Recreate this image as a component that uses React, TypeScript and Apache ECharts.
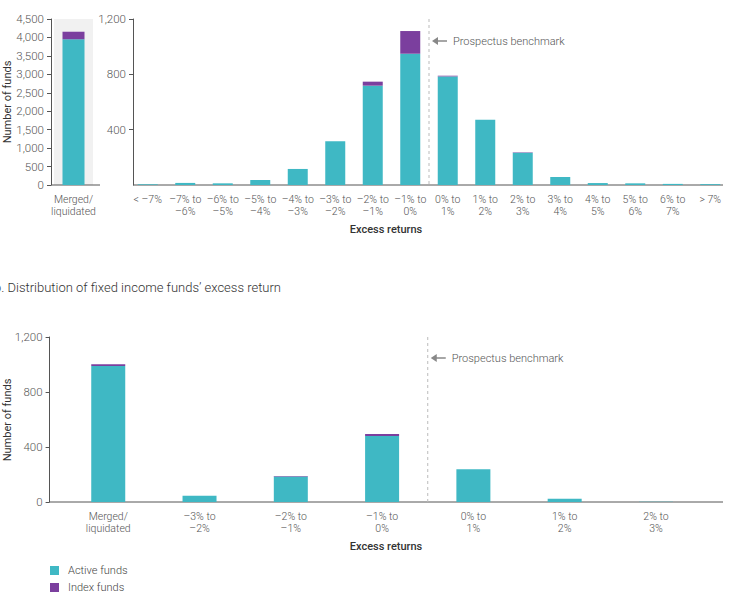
import React, { useEffect, useRef } from 'react';
import * as echarts from 'echarts';

// ---------- data ----------
const mergedCategory = ['Merged/\nliquidated'];
const mergedActive = [3950];
const mergedIndex = [205];

const equityCategories = [
  '< –7%', '–7% to\n–6%', '–6% to\n–5%', '–5% to\n–4%', '–4% to\n–3%', '–3% to\n–2%',
  '–2% to\n–1%', '–1% to\n0%', '0% to\n1%', '1% to\n2%', '2% to\n3%', '3% to\n4%',
  '4% to\n5%', '5% to\n6%', '6% to\n7%', '> 7%',
];
const equityActive = [5, 15, 12, 36, 116, 316, 718, 949, 785, 472, 233, 58, 14, 12, 8, 6];
const equityIndex = [0, 0, 0, 0, 0, 0, 29, 164, 5, 0, 3, 0, 0, 0, 0, 0];

const fixedCategories = [
  'Merged/\nliquidated', '–3% to\n–2%', '–2% to\n–1%', '–1% to\n0%', '0% to\n1%', '1% to\n2%', '2% to\n3%',
];
const fixedActive = [990, 45, 185, 480, 238, 24, 2];
const fixedIndex = [12, 0, 4, 14, 0, 0, 0];

const mergedYMax = 4500;
const mergedYInterval = 500;
const equityYMax = 1200;
const equityYTicks = [400, 800, 1200];
const fixedYMax = 1200;
const fixedYInterval = 400;

const seriesNames = ['Active funds', 'Index funds'];
const benchmarkLabel = 'Prospectus benchmark';
const titleB = 'b. Distribution of fixed income funds’ excess return';
const xName = 'Excess returns';
const yName = 'Number of funds';

// ---------- styles ----------
const TEAL = '#3fb8c4';
const PURPLE = '#7b3f9e';
const AXIS = '#555';
const FONT = 'Roboto, "Liberation Sans", sans-serif';
const LIGHT = 300;

const yAxisBase = (extra: any) => ({
  type: 'value',
  min: 0,
  splitLine: { show: false },
  axisLine: { show: true, lineStyle: { color: AXIS, width: 1 } },
  axisTick: { show: true, length: 4, lineStyle: { color: AXIS } },
  axisLabel: { color: '#555', fontSize: 11.5, fontWeight: LIGHT, fontFamily: FONT, margin: 7 },
  ...extra,
});

const xAxisBase = (extra: any) => ({
  type: 'category',
  axisLine: { show: false },
  axisTick: { show: false },
  axisLabel: {
    interval: 0, color: '#555', fontSize: 10.5, fontWeight: LIGHT, fontFamily: FONT, lineHeight: 12, margin: 8,
  },
  ...extra,
});

export default function App() {
  const ref = useRef<HTMLDivElement>(null);

  useEffect(() => {
    if (!ref.current) return;
    const chart = echarts.init(ref.current, null, { renderer: 'svg' });

    const option: any = {
      animation: false,
      textStyle: { fontFamily: FONT },
      grid: [
        { left: 54, top: 19, width: 39, height: 166 },
        { left: 129, top: 19, width: 603, height: 166 },
        { left: 62.6, top: 337, width: 639, height: 165 },
      ],
      xAxis: [
        xAxisBase({
          gridIndex: 0, data: mergedCategory,
          splitArea: { show: true, areaStyle: { color: ['#f1f1f1'] } },
        }),
        xAxisBase({ gridIndex: 1, data: equityCategories }),
        xAxisBase({ gridIndex: 2, data: fixedCategories }),
      ],
      yAxis: [
        yAxisBase({ gridIndex: 0, max: mergedYMax, interval: mergedYInterval, offset: 3 }),
        yAxisBase({
          gridIndex: 1, max: equityYMax, offset: -4,
          axisTick: { show: true, length: 4, lineStyle: { color: AXIS }, customValues: equityYTicks },
          axisLabel: { color: '#555', fontSize: 11.5, fontWeight: LIGHT, fontFamily: FONT, margin: 7, customValues: equityYTicks },
        }),
        yAxisBase({ gridIndex: 2, max: fixedYMax, interval: fixedYInterval, offset: 13 }),
      ],
      legend: {
        data: seriesNames,
        orient: 'vertical',
        left: 50,
        top: 565,
        padding: 0,
        itemWidth: 9,
        itemHeight: 9,
        itemGap: 6,
        icon: 'rect',
        textStyle: { color: '#444', fontSize: 11, fontWeight: LIGHT, fontFamily: FONT, padding: [0, 0, 0, 4] },
      },
      series: [
        { name: seriesNames[0], type: 'bar', xAxisIndex: 0, yAxisIndex: 0, stack: 'm', barWidth: 22, data: mergedActive, itemStyle: { color: TEAL } },
        { name: seriesNames[1], type: 'bar', xAxisIndex: 0, yAxisIndex: 0, stack: 'm', barWidth: 22, data: mergedIndex, itemStyle: { color: PURPLE } },
        { name: seriesNames[0], type: 'bar', xAxisIndex: 1, yAxisIndex: 1, stack: 'e', barWidth: 20, data: equityActive, itemStyle: { color: TEAL } },
        { name: seriesNames[1], type: 'bar', xAxisIndex: 1, yAxisIndex: 1, stack: 'e', barWidth: 20, data: equityIndex, itemStyle: { color: PURPLE } },
        { name: seriesNames[0], type: 'bar', xAxisIndex: 2, yAxisIndex: 2, stack: 'f', barWidth: 34, data: fixedActive, itemStyle: { color: TEAL } },
        { name: seriesNames[1], type: 'bar', xAxisIndex: 2, yAxisIndex: 2, stack: 'f', barWidth: 34, data: fixedIndex, itemStyle: { color: PURPLE } },
      ],
    };
    chart.setOption(option);

    // annotation positions derived from axes
    const px = (xi: number, cat: string) => chart.convertToPixel({ xAxisIndex: xi }, cat) as number;
    const py = (yi: number, v: number) => chart.convertToPixel({ yAxisIndex: yi }, v) as number;

    const eqIdx = equityCategories.indexOf('–1% to\n0%');
    const fiIdx = fixedCategories.indexOf('–1% to\n0%');
    const eqBench = (px(1, equityCategories[eqIdx]) + px(1, equityCategories[eqIdx + 1])) / 2;
    const fiBench = (px(2, fixedCategories[fiIdx]) + px(2, fixedCategories[fiIdx + 1])) / 2;

    const eqY0 = py(1, 0);
    const eqYTop = py(1, equityYMax);
    const fiY0 = py(2, 0);
    const fiYTop = py(2, fixedYMax);
    const mY0 = py(0, 0);

    const mergedAxisX = 51;
    const eqAxisX = 133;
    const fiAxisX = 49.6;

    const benchmark = (x: number, yTop: number, yBottom: number, yArrow: number) => [
      { type: 'line', shape: { x1: x, y1: yTop, x2: x, y2: yBottom }, style: { stroke: '#bbb', lineWidth: 1, lineDash: [3, 3] } },
      { type: 'line', shape: { x1: x + 7, y1: yArrow, x2: x + 18, y2: yArrow }, style: { stroke: '#888', lineWidth: 1.5 } },
      { type: 'polygon', shape: { points: [[x + 3, yArrow], [x + 9, yArrow - 4], [x + 9, yArrow + 4]] }, style: { fill: '#888' } },
      { type: 'text', x: x + 24, y: yArrow, style: { text: benchmarkLabel, fill: '#555', fontSize: 11, fontWeight: LIGHT, fontFamily: FONT, verticalAlign: 'middle' } },
    ];

    const graphic: any[] = [
      // baselines
      { type: 'line', shape: { x1: mergedAxisX, y1: mY0, x2: 100, y2: mY0 }, style: { stroke: AXIS, lineWidth: 1 } },
      { type: 'line', shape: { x1: eqAxisX, y1: eqY0, x2: 723, y2: eqY0 }, style: { stroke: AXIS, lineWidth: 1 } },
      { type: 'line', shape: { x1: fiAxisX, y1: fiY0, x2: 723, y2: fiY0 }, style: { stroke: AXIS, lineWidth: 1 } },
      ...benchmark(eqBench, eqYTop, eqY0, 41),
      ...benchmark(fiBench, fiYTop, fiY0, 358),
      // axis names
      { type: 'text', x: 386, y: 229, style: { text: xName, fill: '#333', fontSize: 11, fontWeight: 500, fontFamily: FONT, align: 'center', verticalAlign: 'middle' } },
      { type: 'text', x: 386, y: 546, style: { text: xName, fill: '#333', fontSize: 11, fontWeight: 500, fontFamily: FONT, align: 'center', verticalAlign: 'middle' } },
      { type: 'text', x: 7, y: 102, rotation: Math.PI / 2, style: { text: yName, fill: '#333', fontSize: 11, fontFamily: FONT, align: 'center', verticalAlign: 'middle' } },
      { type: 'text', x: 7, y: 420, rotation: Math.PI / 2, style: { text: yName, fill: '#333', fontSize: 11, fontFamily: FONT, align: 'center', verticalAlign: 'middle' } },
      // panel title
      { type: 'text', x: -6, y: 287, style: { text: titleB, fill: '#333', fontSize: 13, fontWeight: LIGHT, fontFamily: FONT, verticalAlign: 'middle' } },
    ];
    chart.setOption({ graphic });

    return () => chart.dispose();
  }, []);

  return (
    <div
      ref={ref}
      style={{ position: 'fixed', left: 0, top: 0, width: 729, height: 594, background: '#fff' }}
    />
  );
}
